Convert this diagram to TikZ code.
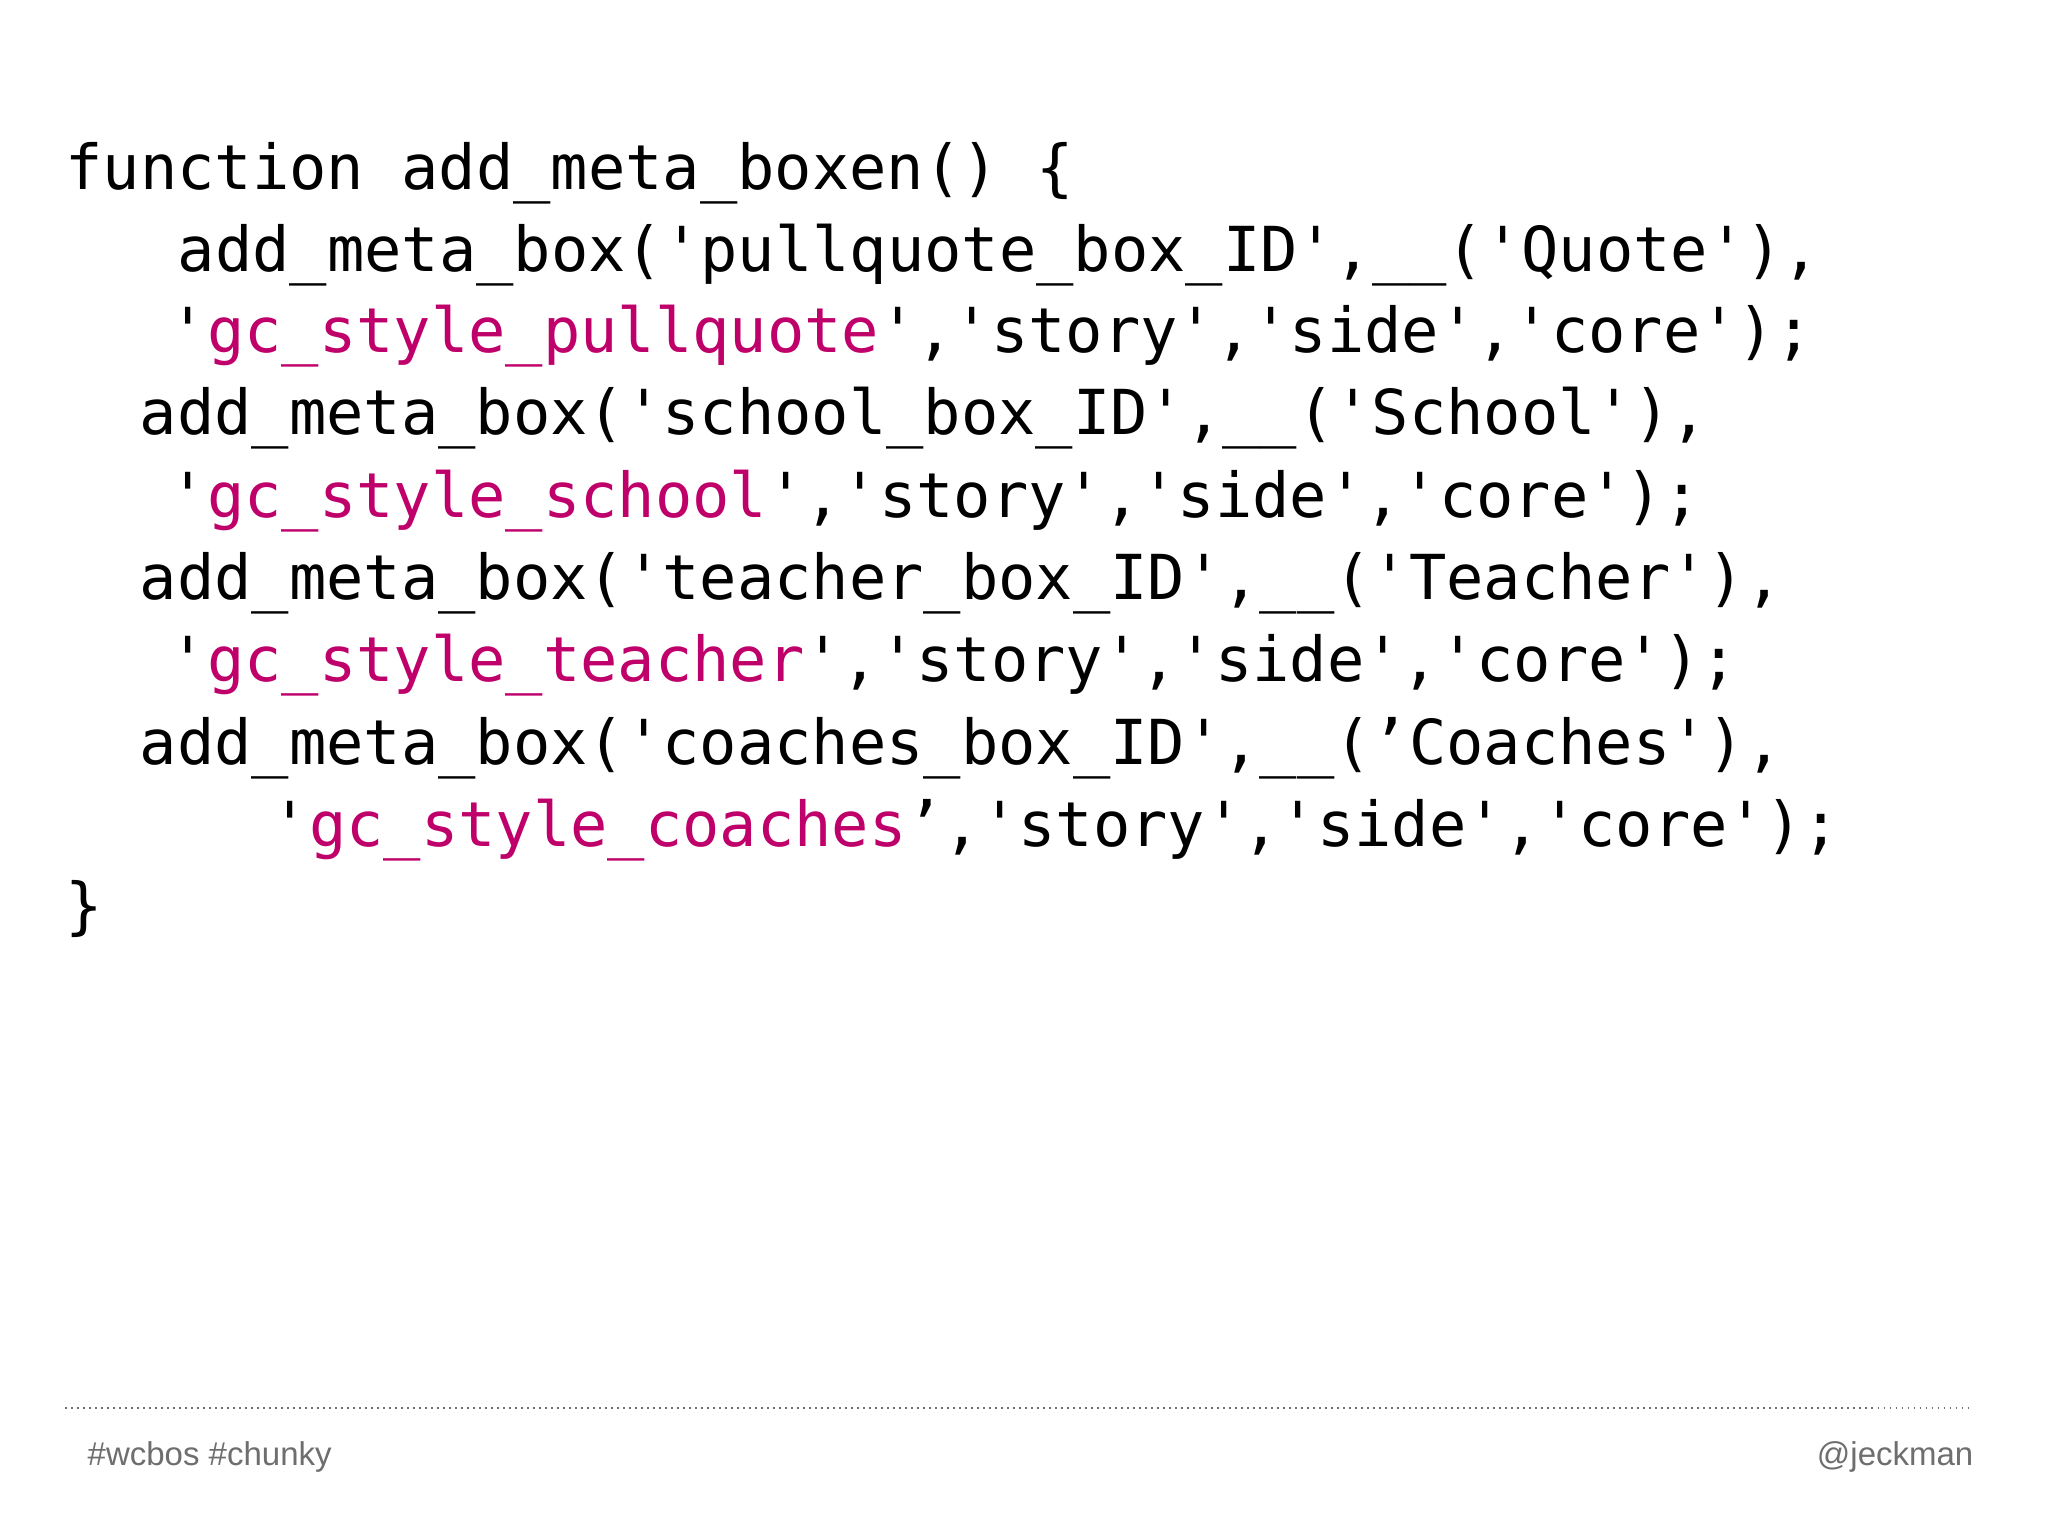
\documentclass[tikz,border=0pt]{standalone}
\usepackage{fontspec}
\setmainfont{Liberation Sans}
\newfontfamily\codefont{DejaVu Sans Mono}
\definecolor{pinkc}{HTML}{C0006A}
\definecolor{footg}{HTML}{6E6E6E}
\begin{document}
\begin{tikzpicture}[x=1.306pt,y=-1.306pt,
  code/.style={anchor=base west,inner sep=0pt,font=\codefont\fontsize{62}{62}\selectfont},
  foot/.style={inner sep=0pt,text=footg,font=\fontsize{33}{33}\selectfont}]
\useasboundingbox[fill=white] (0,0) rectangle (1568,1176);
\newcommand{\pk}[1]{\textcolor{pinkc}{#1}}
\node[code] (l1) at (50,145) {function add\_meta\_boxen() \{};
\node[code] (l2) at (136,208) {add\_meta\_box('pullquote\_box\_ID',\_\_('Quote'),};
\node[code] (l3) at (130,270) {'\pk{gc\_style\_pullquote}','story','side','core');};
\node[code] (l4) at (107,333) {add\_meta\_box('school\_box\_ID',\_\_('School'),};
\node[code] (l5) at (130,396) {'\pk{gc\_style\_school}','story','side','core');};
\node[code] (l6) at (107,459) {add\_meta\_box('teacher\_box\_ID',\_\_('Teacher'),};
\node[code] (l7) at (130,522) {'\pk{gc\_style\_teacher}','story','side','core');};
\node[code] (l8) at (107,585) {add\_meta\_box('coaches\_box\_ID',\_\_(’Coaches'),};
\node[code] (l9) at (208,648) {'\pk{gc\_style\_coaches}’,'story','side','core');};
\node[code] (l10) at (50,710) {\}};
\draw[footg,line width=1.5pt,dash pattern=on 1.5pt off 4.5pt] (50,1078) -- (1510,1078);
\node[foot,anchor=base west] (f1) at (67,1122) {\#wcbos \#chunky};
\node[foot,anchor=base east] (f2) at (1511,1122) {@jeckman};
\end{tikzpicture}
\end{document}
